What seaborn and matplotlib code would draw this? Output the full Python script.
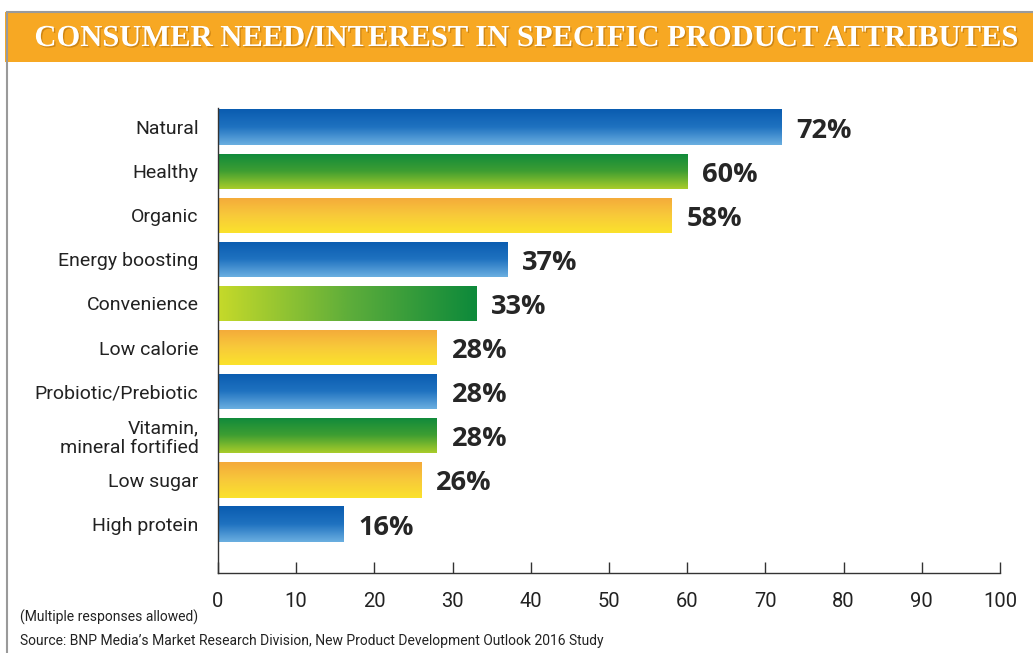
import numpy as np
import pandas as pd
import seaborn as sns
import matplotlib.pyplot as plt
import matplotlib.patheffects as pe
from matplotlib.patches import Rectangle
from matplotlib.colors import LinearSegmentedColormap

# data
attributes = ["Natural", "Healthy", "Organic", "Energy boosting", "Convenience",
              "Low calorie", "Probiotic/Prebiotic", "Vitamin,\nmineral fortified",
              "Low sugar", "High protein"]
percent = [72, 60, 58, 37, 33, 28, 28, 28, 26, 16]
bar_style = ["blue", "green", "yellow", "blue", "lime",
             "yellow", "blue", "green", "yellow", "blue"]
ticks = [0, 10, 20, 30, 40, 50, 60, 70, 80, 90, 100]

df = pd.DataFrame({"attr": attributes, "pct": percent})

sns.set_theme(style="white")
plt.rcParams['font.family'] = ['Roboto', 'DejaVu Sans']

# gradients: (colors, vertical?)
grads = {
    "blue": (["#0a5cb0", "#1f72c0", "#6aaee0"], True),
    "green": (["#0f8a3c", "#3e9e32", "#a8cc2a"], True),
    "yellow": (["#f4aa3a", "#f8c93a", "#fbe22c"], True),
    "lime": (["#c4d92a", "#5fae3a", "#0e8a3a"], False),
}

fig = plt.figure(figsize=(10.33, 6.53), dpi=100)
ax = fig.add_axes([0.211, 0.1225, 0.757, 0.712])

sns.barplot(data=df, x="pct", y="attr", orient="h", color="white",
            width=0.8, ax=ax, linewidth=0)

for p, style, v in zip(ax.patches, bar_style, percent):
    cols, vertical = grads[style]
    cmap = LinearSegmentedColormap.from_list(style, cols)
    if vertical:
        g = np.linspace(0, 1, 64).reshape(-1, 1)
    else:
        g = np.linspace(0, 1, 64).reshape(1, -1)
    x0, y0 = p.get_x(), p.get_y()
    w, h = p.get_width(), p.get_height()
    # y axis is inverted: y0 is top of bar
    im = ax.imshow(g, cmap=cmap, aspect="auto", origin="upper",
                   extent=[x0, x0 + w, y0 + h, y0], zorder=2,
                   interpolation="bilinear")
    im.set_clip_path(p)
    ax.text(x0 + w + 1.9, y0 + h / 2 + 0.08, f"{v}%", va="center", ha="left",
            fontsize=19.5, fontweight="bold", color="#262626",
            family=["Open Sans", "DejaVu Sans"])

ax.set_xlim(0, 100)
ax.set_ylim(10.11, -0.43)

ax.set_xticks(ticks)
ax.set_xticklabels([str(t) for t in ticks], fontsize=14.5, color="#222222")
ax.tick_params(axis="x", direction="in", length=8, width=1, color="#333333",
               bottom=True, pad=14)
ax.tick_params(axis="y", length=0, labelsize=14, labelcolor="#222222", pad=14)
for lab in ax.get_yticklabels():
    lab.set_linespacing(1.05)
ax.set_xlabel("")
ax.set_ylabel("")
for side in ["top", "right"]:
    ax.spines[side].set_visible(False)
for side in ["left", "bottom"]:
    ax.spines[side].set_color("#333333")
    ax.spines[side].set_linewidth(1)

# header band and frame
fig.patches.append(Rectangle((0.005, 0.905), 1.0, 0.077, transform=fig.transFigure,
                             facecolor="#f7a823", edgecolor="none", zorder=0))
fig.patches.append(Rectangle((0.0065, -0.01), 1.0, 0.992, transform=fig.transFigure,
                             facecolor="none", edgecolor="#9a9a9a", linewidth=1.5, zorder=1))
fig.text(0.509, 0.941, "CONSUMER NEED/INTEREST IN SPECIFIC PRODUCT ATTRIBUTES",
         ha="center", va="center", fontsize=22, fontweight="bold", color="white",
         family=["Liberation Serif", "DejaVu Serif"],
         path_effects=[pe.withSimplePatchShadow(offset=(1, -1), shadow_rgbFace="#b5700a", alpha=0.6)])

fig.text(0.019, 0.055, "(Multiple responses allowed)", fontsize=10, color="#222222",
         va="center")
fig.text(0.019, 0.019, "Source: BNP Media\u2019s Market Research Division, New Product Development Outlook 2016 Study",
         fontsize=10, color="#222222", va="center")

fig.savefig("out.png", dpi=100)
